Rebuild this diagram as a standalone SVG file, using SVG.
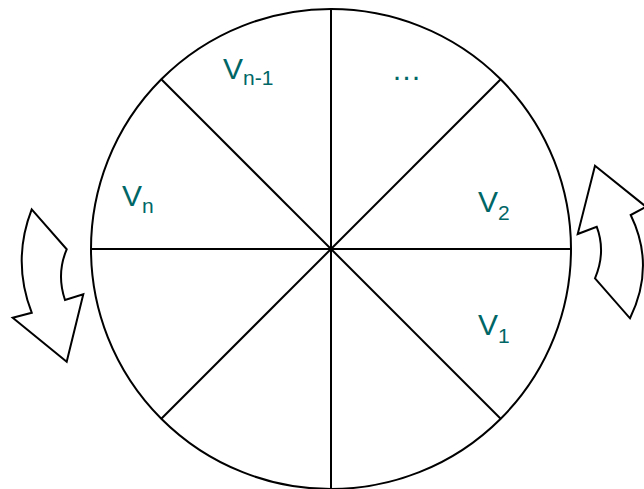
<svg xmlns="http://www.w3.org/2000/svg" width="644" height="489" viewBox="0 0 644 489">
<style>
.ln{stroke:#000;stroke-width:2;fill:none}
.arr{stroke:#000;stroke-width:2;fill:#fff;stroke-linejoin:miter}
.lbl{font-family:"Liberation Sans",Arial,sans-serif;font-size:30px;fill:#006666}
.sub{font-size:21px}
</style>
<rect width="644" height="489" fill="#fff"/>
<g id="wheel">
<circle class="ln" cx="331" cy="249" r="240"/>
</g>
<g id="connectors">
<line class="ln" x1="331" y1="9" x2="331" y2="489"/>
<line class="ln" x1="91" y1="249" x2="571" y2="249"/>
<line class="ln" x1="161.3" y1="79.3" x2="500.7" y2="418.7"/>
<line class="ln" x1="500.7" y1="79.3" x2="161.3" y2="418.7"/>
</g>
<g id="arrow-left">
<path class="arr" d="M31.7,209.3 L66.7,249.3 Q56.2,274 65,300 L83.3,294.3 L66.7,361.7 L12.7,317.7 L31.7,312.7 Q11.7,261 31.7,209.3 Z"/>
</g>
<g id="arrow-right">
<path class="arr" d="M595,165.7 L646,206.7 L630.7,215 Q655.6,266 630,318.3 L595,278.3 Q606.2,252 596.7,226.7 L577.7,234 Z"/>
</g>
<g id="label-vn"><text class="lbl" x="122" y="206">V<tspan class="sub" dy="7">n</tspan></text></g>
<g id="label-vn1"><text class="lbl" x="223" y="79">V<tspan class="sub" dy="6">n-1</tspan></text></g>
<g id="label-dots"><text class="lbl" x="391.5" y="80">…</text></g>
<g id="label-v2"><text class="lbl" x="478" y="212">V<tspan class="sub" dy="8">2</tspan></text></g>
<g id="label-v1"><text class="lbl" x="478" y="335">V<tspan class="sub" dy="8">1</tspan></text></g>
</svg>
